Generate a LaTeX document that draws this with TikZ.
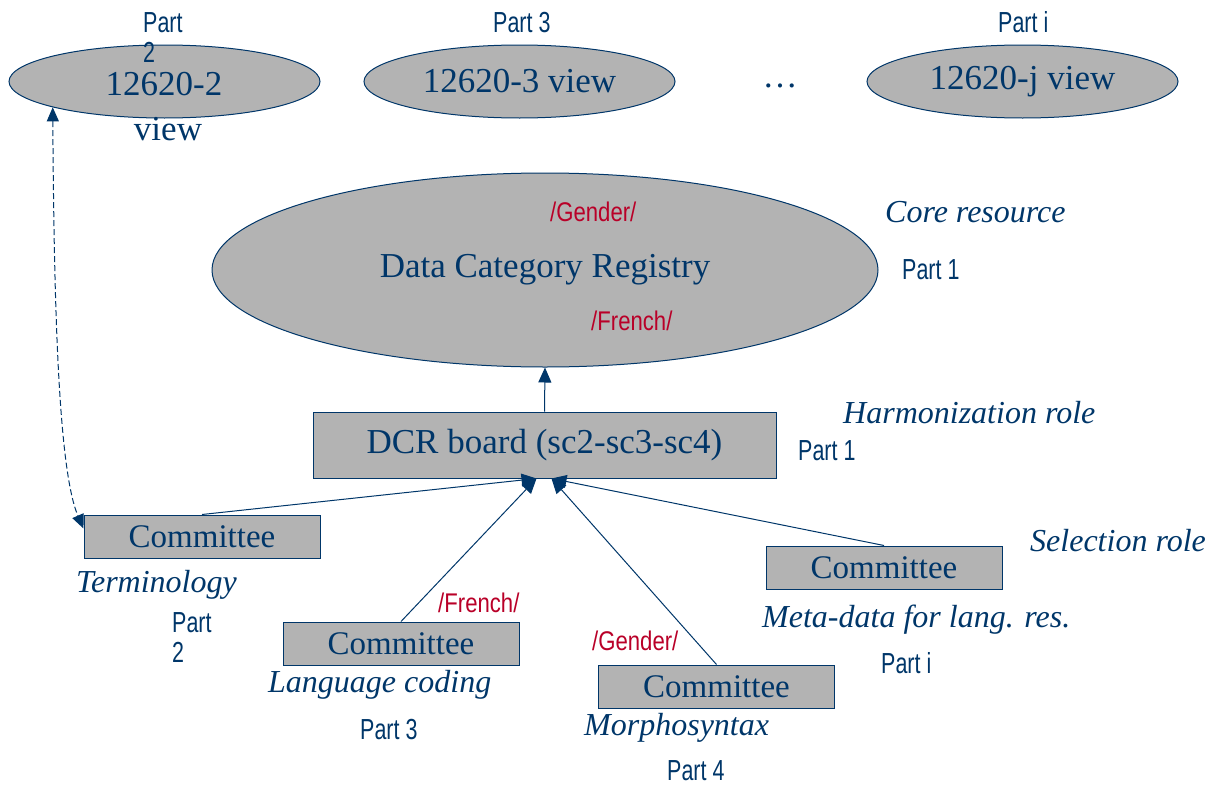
\documentclass[tikz,border=0pt]{standalone}
\usepackage{fontspec}
\setmainfont{Liberation Serif}
\newfontfamily\partfont[FakeStretch=0.74]{Liberation Sans}
\newfontfamily\tagfont[FakeStretch=0.82]{Liberation Sans}
\usetikzlibrary{shapes.geometric,arrows.meta}
\definecolor{navy}{RGB}{0,54,105}
\definecolor{tagred}{RGB}{185,0,40}
\definecolor{boxgray}{RGB}{179,179,179}
\tikzset{
  view/.style={ellipse, draw=navy, fill=boxgray, line width=1pt,
    minimum width=311pt, minimum height=73pt, inner sep=0pt,
    text=navy, font=\fontsize{35}{38}\selectfont},
  registry/.style={ellipse, draw=navy, fill=boxgray, line width=1pt,
    minimum width=666pt, minimum height=194pt, inner sep=0pt},
  board/.style={rectangle, draw=navy, fill=boxgray, line width=1pt,
    minimum width=463pt, minimum height=66pt, inner sep=0pt,
    text=navy, font=\fontsize{35}{38}\selectfont},
  committee/.style={rectangle, draw=navy, fill=boxgray, line width=1pt,
    minimum width=236pt, minimum height=43pt, inner sep=0pt,
    text=navy, font=\fontsize{33}{36}\selectfont},
  plain/.style={text=navy, inner sep=0pt, font=\fontsize{35}{38}\selectfont},
  role/.style={text=navy, inner sep=0pt, anchor=base west,
    font=\itshape\fontsize{32}{36}\selectfont},
  part/.style={text=navy, inner sep=0pt, anchor=base west,
    font=\partfont\fontsize{29}{32}\selectfont},
  tag/.style={text=tagred, inner sep=0pt, anchor=base west,
    font=\tagfont\fontsize{27}{30}\selectfont},
  link/.style={draw=navy, line width=1pt, -{Triangle[length=15pt,width=13pt]}},
  dlink/.style={draw=navy, line width=1pt, dash pattern=on 6pt off 3pt,
    {Triangle[length=14pt,width=12pt]}-{Triangle[length=14pt,width=12pt]}},
}
\begin{document}
\begin{tikzpicture}[x=1pt,y=-1pt]
\useasboundingbox (0,0) rectangle (1210,787);

% views of the standard
\node[view] (v2) at (164.5,81.5) {};
\node[plain, anchor=base] (v2a) at (164,95) {12620-2};
\node[plain, anchor=base] (v2b) at (168,140) {view};
\node[view] (v3) at (519.5,81.5) {12620-3 view};
\node[plain] (dots) at (780,86) {\ldots};
\node[view] (vj) at (1022.5,81.5) {12620-j view};

\node[part] (p2a) at (143,32) {Part};
\node[part] (p2b) at (143,62) {2};
\node[part] (p3) at (493,32) {Part 3};
\node[part] (pi) at (998,32) {Part i};

% central registry
\node[registry] (reg) at (545,270) {};
\node[plain] (regtext) at (545,270) {Data Category Registry};
\node[tag] (gen1) at (550,221) {/Gender/};
\node[tag] (fr1) at (591,330) {/French/};
\node[role] (core) at (885,222) {Core resource};
\node[part] (p1a) at (902,279) {Part 1};

% harmonization board
\node[board] (dcr) at (544.5,445) {DCR board (sc2-sc3-sc4)};
\node[role] (harm) at (843,423) {Harmonization role};
\node[part] (p1b) at (798,460) {Part 1};

% committees
\node[committee] (term) at (202,536.5) {Committee};
\node[role] (termtxt) at (76,592) {Terminology};
\node[part] (p2c) at (172,632) {Part};
\node[part] (p2d) at (172,662) {2};

\node[committee] (lang) at (401,643.5) {Committee};
\node[role] (langtxt) at (268,692) {Language coding};
\node[part] (p3b) at (360,739) {Part 3};
\node[tag] (fr2) at (438,612) {/French/};

\node[committee] (morph) at (716.5,686.5) {Committee};
\node[role] (morphtxt) at (584,735) {Morphosyntax};
\node[part] (p4) at (667,780) {Part 4};
\node[tag] (gen2) at (592,650) {/Gender/};

\node[committee] (meta) at (884,567.5) {Committee};
\node[role] (metatxt) at (762,627) {Meta-data for lang. res.};
\node[role] (sel) at (1030,551) {Selection role};
\node[part] (pib) at (881,673) {Part i};

% connectors
\draw[link] (dcr.north) -- (reg.south);
\draw[link] (term.north) -- ([xshift=-8pt]dcr.south);
\draw[link] (lang.north) -- ([xshift=-8pt]dcr.south);
\draw[link] (morph.north) -- ([xshift=7pt]dcr.south);
\draw[link] (meta.north) -- ([xshift=7pt]dcr.south);
\draw[dlink] (v2.193) .. controls (54,300) and (58,470) .. ([yshift=8pt]term.west);
\end{tikzpicture}
\end{document}
